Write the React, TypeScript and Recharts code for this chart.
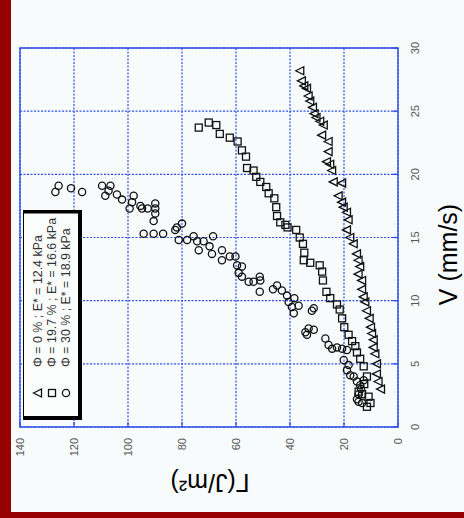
import React from "react";
import {
  ScatterChart,
  Scatter,
  XAxis,
  YAxis,
  CartesianGrid,
  ReferenceArea,
  Legend,
} from "recharts";

const gammaTicks = [0, 20, 40, 60, 80, 100, 120, 140];
const vTicks = [0, 5, 10, 15, 20, 25, 30];

const seriesNames = [
  "Φ = 0 % ; E* = 12.4 kPa",
  "Φ = 19.7 % ; E* = 16.6 kPa",
  "Φ = 30 % ; E* = 18.9 kPa",
];

// Φ = 0 %
const triV = [28.2, 27.4, 27.0, 26.8, 26.2, 25.8, 25.3, 24.8, 24.5, 24.2, 23.9, 23.1, 22.6, 21.8, 21.0, 20.8, 20.3, 19.4, 19.3, 18.3, 17.8, 17.4, 17.0, 16.4, 15.6, 15.0, 14.5, 13.7, 13.2, 12.7, 12.1, 11.6, 10.9, 10.3, 9.9, 9.2, 8.6, 7.9, 7.4, 6.9, 6.3, 5.8, 5.0, 4.2, 3.6, 3.0];
const triG = [36.2, 35.6, 34.7, 33.7, 33.1, 32.5, 31.5, 30.9, 30.2, 28.8, 27.5, 28.1, 25.7, 25.7, 26.3, 25.1, 24.4, 23.8, 20.7, 22.0, 20.7, 20.1, 18.9, 18.3, 18.9, 17.7, 16.4, 15.2, 14.6, 14.0, 14.6, 13.3, 13.3, 12.7, 12.1, 11.5, 10.5, 10.0, 9.6, 9.0, 9.0, 8.4, 7.8, 7.8, 7.2, 6.3];

// Φ = 19.7 %
const sqV = [23.7, 24.1, 23.9, 23.2, 22.9, 22.6, 21.9, 21.4, 20.5, 20.3, 19.8, 19.4, 19.0, 18.5, 18.1, 17.4, 16.7, 16.2, 16.0, 15.8, 15.6, 15.0, 14.5, 13.8, 13.2, 13.0, 12.8, 12.3, 11.6, 10.7, 10.2, 9.7, 9.3, 8.6, 7.9, 7.3, 6.8, 6.4, 5.9, 5.4, 4.8, 4.0, 3.4, 2.6, 2.8, 2.4, 1.9, 1.6];
const sqG = [73.8, 70.1, 67.3, 66.0, 62.3, 59.4, 57.8, 56.3, 55.9, 53.5, 52.5, 51.0, 48.8, 47.9, 45.8, 45.1, 44.8, 43.6, 41.7, 40.9, 37.7, 36.4, 35.2, 34.7, 34.9, 32.5, 29.0, 28.1, 27.8, 26.5, 25.1, 22.6, 21.6, 20.7, 19.9, 18.3, 17.0, 15.8, 15.2, 14.0, 12.7, 11.5, 12.5, 13.3, 14.6, 10.9, 10.2, 11.5];

// Φ = 30 %
const circV = [18.6, 19.1, 18.9, 18.6, 19.1, 19.1, 18.7, 18.3, 18.4, 18.0, 18.3, 17.8, 17.3, 17.5, 17.3, 17.3, 17.7, 17.3, 16.9, 16.3, 15.3, 15.3, 15.3, 15.6, 15.8, 16.1, 14.8, 14.8, 15.1, 14.7, 14.0, 14.7, 14.3, 15.1, 13.7, 14.0, 13.2, 13.5, 13.5, 12.8, 12.7, 12.2, 11.9, 11.5, 11.5, 11.9, 11.6, 10.7, 10.9, 11.2, 10.8, 10.4, 9.9, 9.5, 9.0, 9.6, 10.2, 9.2, 9.4, 7.5, 7.8, 7.7, 7.3, 7.0, 6.5, 6.2, 6.3, 6.2, 6.1, 5.3, 4.9, 4.5, 4.1, 4.0, 3.6, 3.3, 2.6, 2.2, 2.0, 1.9, 3.0, 3.7];
const circG = [126.9, 125.7, 121.1, 117.0, 109.6, 106.5, 107.2, 108.4, 104.1, 102.2, 97.9, 98.5, 99.4, 95.4, 94.8, 92.7, 89.9, 89.9, 89.9, 90.5, 94.2, 90.5, 87.0, 82.5, 81.9, 80.0, 81.2, 78.1, 75.7, 74.4, 73.8, 72.0, 69.8, 68.5, 68.9, 65.2, 65.2, 62.3, 60.2, 59.6, 57.8, 59.0, 57.8, 55.3, 53.5, 51.2, 51.0, 51.2, 46.3, 44.8, 43.0, 41.1, 40.5, 39.3, 38.6, 36.8, 38.4, 31.9, 31.2, 34.3, 33.1, 31.2, 33.7, 26.9, 25.7, 24.4, 22.6, 20.7, 18.9, 20.1, 18.3, 18.9, 17.7, 16.4, 15.2, 14.0, 14.6, 15.2, 14.6, 13.3, 13.7, 12.7];

const toPoints = (vs: number[], gs: number[]) => vs.map((v, i) => ({ v, g: gs[i] }));

const triData = toPoints(triV, triG);
const sqData = toPoints(sqV, sqG);
const circData = toPoints(circV, circG);

const BG = "#f7fbfb";
const BLUE = "#2f50e6";
const FONT = "'Liberation Sans', Arial, sans-serif";

const Tri = ({ cx, cy }: any) => (
  <polygon
    points={`${cx - 4.5},${cy} ${cx + 3.5},${cy - 4} ${cx + 3.5},${cy + 4}`}
    fill="none"
    stroke="#111"
    strokeWidth={1.3}
  />
);

const Sq = ({ cx, cy }: any) => (
  <rect x={cx - 3.5} y={cy - 3.5} width={7} height={7} fill="none" stroke="#111" strokeWidth={1.3} />
);

const Circ = ({ cx, cy }: any) => (
  <circle cx={cx} cy={cy} r={3.6} fill="none" stroke="#111" strokeWidth={1.3} />
);

function GammaTick({ x, y, payload }: any) {
  return (
    <text
      x={x}
      y={y}
      transform={`rotate(-90 ${x} ${y})`}
      textAnchor="end"
      dominantBaseline="central"
      fontSize={11}
      fontFamily={FONT}
      fill="#555"
    >
      {payload.value}
    </text>
  );
}

function VTick({ x, y, payload }: any) {
  return (
    <text
      x={x}
      y={y}
      transform={`rotate(-90 ${x} ${y})`}
      textAnchor="middle"
      dominantBaseline="central"
      fontSize={11}
      fontFamily={FONT}
      fill="#555"
    >
      {payload.value}
    </text>
  );
}

function VLabel({ viewBox }: any) {
  const x = viewBox.x + 50;
  const y = viewBox.y + viewBox.height / 2 + 17;
  return (
    <text
      x={x}
      y={y}
      transform={`rotate(-90 ${x} ${y})`}
      textAnchor="middle"
      dominantBaseline="central"
      fontSize={25}
      fontFamily={FONT}
      fill="#000"
    >
      V (mm/s)
    </text>
  );
}

function GammaLabel({ viewBox }: any) {
  const x = viewBox.x + viewBox.width / 2 + 1;
  const y = 483;
  return (
    <text
      x={x}
      y={y}
      transform={`rotate(180 ${x} ${y})`}
      textAnchor="middle"
      dominantBaseline="central"
      fontSize={25}
      fontFamily={FONT}
      fill="#000"
    >
      Γ(J/m²)
    </text>
  );
}

function LegendBox() {
  const shapes = [Tri, Sq, Circ];
  const cols = [15, 29, 43];
  return (
    <svg width={59} height={210} style={{ display: "block" }}>
      <rect x={0.5} y={0.5} width={56} height={207} fill="#fbfdfd" stroke="#000" strokeWidth={1} />
      <rect x={0} y={0} width={59} height={3.5} fill="#000" />
      <rect x={55} y={0} width={4} height={210} fill="#000" />
      <rect x={0} y={206} width={59} height={4} fill="#000" />
      {seriesNames.map((name, i) => {
        const Shape = shapes[i];
        const x = cols[i];
        const y = 157;
        return (
          <g key={name}>
            <Shape cx={x} cy={183} />
            <text
              x={x}
              y={y}
              transform={`rotate(-90 ${x} ${y})`}
              textAnchor="start"
              dominantBaseline="central"
              fontSize={12.4}
              fontFamily={FONT}
              fill="#333"
            >
              {name}
            </text>
          </g>
        );
      })}
    </svg>
  );
}

export default function App() {
  return (
    <div
      style={{
        position: "absolute",
        left: 0,
        top: 0,
        width: 464,
        height: 518,
        background: BG,
        overflow: "hidden",
      }}
    >
      <ScatterChart width={464} height={518} margin={{ top: 48, right: 36, bottom: 71, left: 20 }}>
        <CartesianGrid stroke={BLUE} strokeDasharray="2 1.5" strokeWidth={1.2} />
        <XAxis
          type="number"
          dataKey="g"
          domain={[0, 140]}
          ticks={gammaTicks}
          reversed
          height={20}
          axisLine={false}
          tickSize={-5}
          tickMargin={16}
          tickLine={{ stroke: BLUE, strokeWidth: 1.3 }}
          tick={<GammaTick />}
          label={<GammaLabel />}
        />
        <XAxis
          xAxisId="top"
          orientation="top"
          type="number"
          domain={[0, 140]}
          ticks={gammaTicks}
          reversed
          height={0}
          axisLine={false}
          tickSize={-5}
          tickLine={{ stroke: BLUE, strokeWidth: 1.3 }}
          tick={false}
        />
        <YAxis
          type="number"
          dataKey="v"
          orientation="right"
          domain={[0, 30]}
          ticks={vTicks}
          width={30}
          axisLine={false}
          tickSize={-5}
          tickMargin={22}
          tickLine={{ stroke: BLUE, strokeWidth: 1.3 }}
          tick={<VTick />}
          label={<VLabel />}
        />
        <YAxis
          yAxisId="left"
          orientation="left"
          type="number"
          domain={[0, 30]}
          ticks={vTicks}
          width={0}
          axisLine={false}
          tickSize={-5}
          tickLine={{ stroke: BLUE, strokeWidth: 1.3 }}
          tick={false}
        />
        <ReferenceArea x1={0} x2={140} y1={0} y2={30} fill="none" stroke={BLUE} strokeWidth={1.4} />
        <Scatter name={seriesNames[0]} data={triData} shape={<Tri />} isAnimationActive={false} />
        <Scatter name={seriesNames[1]} data={sqData} shape={<Sq />} isAnimationActive={false} />
        <Scatter name={seriesNames[2]} data={circData} shape={<Circ />} isAnimationActive={false} />
        <Legend
          layout="vertical"
          align="center"
          verticalAlign="middle"
          content={<LegendBox />}
          wrapperStyle={{ left: 23, top: 210, width: 59, height: 210, right: "auto", bottom: "auto" }}
        />
      </ScatterChart>
      <div style={{ position: "absolute", left: 0, top: 0, width: 11, height: 518, background: "#960000" }} />
      <div style={{ position: "absolute", left: 0, top: 512, width: 464, height: 6, background: "#960000" }} />
    </div>
  );
}
